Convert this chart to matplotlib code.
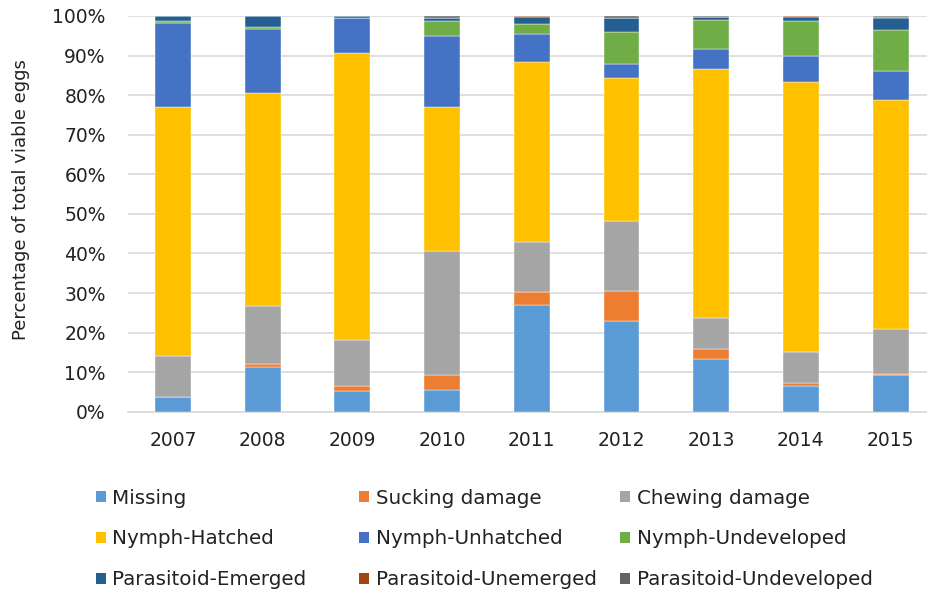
import numpy as np
import matplotlib
matplotlib.use("Agg")
import matplotlib.pyplot as plt
from matplotlib.ticker import PercentFormatter
from matplotlib.patches import Patch

# 数据 (% of total viable eggs)
years = ['2007', '2008', '2009', '2010', '2011', '2012', '2013', '2014', '2015']
missing = [3.8, 11.2, 5.3, 5.6, 27.0, 23.0, 13.3, 6.6, 9.3]
sucking = [0.0, 1.0, 1.3, 3.7, 3.3, 7.5, 2.6, 0.6, 0.3]
chewing = [10.3, 14.6, 11.6, 31.4, 12.7, 17.7, 7.8, 8.0, 11.4]
nymph_hatched = [62.8, 53.7, 72.4, 36.4, 45.3, 36.1, 62.9, 68.0, 57.8]
nymph_unhatched = [21.2, 16.2, 9.0, 17.9, 7.2, 3.6, 5.1, 6.8, 7.4]
nymph_undeveloped = [0.6, 0.4, 0.0, 3.7, 2.5, 8.1, 7.3, 8.7, 10.2]
para_emerged = [1.3, 2.9, 0.4, 0.9, 1.7, 3.6, 0.7, 1.0, 3.0]
para_unemerged = [0.0, 0.0, 0.0, 0.0, 0.3, 0.0, 0.0, 0.3, 0.4]
para_undeveloped = [0.0, 0.0, 0.0, 0.4, 0.0, 0.4, 0.3, 0.0, 0.2]

series = [
    ('Missing', missing, '#5B9BD5'),
    ('Sucking damage', sucking, '#ED7D31'),
    ('Chewing damage', chewing, '#A5A5A5'),
    ('Nymph-Hatched', nymph_hatched, '#FFC000'),
    ('Nymph-Unhatched', nymph_unhatched, '#4472C4'),
    ('Nymph-Undeveloped', nymph_undeveloped, '#70AD47'),
    ('Parasitoid-Emerged', para_emerged, '#255E91'),
    ('Parasitoid-Unemerged', para_unemerged, '#9E480E'),
    ('Parasitoid-Undeveloped', para_undeveloped, '#636363'),
]

fig = plt.figure(figsize=(9.28, 5.90), dpi=100)
ax = fig.add_axes([0.138, 0.302, 0.870, 0.671])

x = np.arange(len(years))
bottom = np.zeros(len(years))
for name, vals, col in series:
    v = np.array(vals) / 100.0
    ax.bar(x, v, width=0.4, bottom=bottom, color=col, label=name,
           edgecolor='white', linewidth=0.3, zorder=3)
    bottom += v

ax.set_xlim(-0.5, 8.5)
ax.set_ylim(0, 1.0)
ax.set_yticks(np.arange(0, 1.01, 0.1))
ax.yaxis.set_major_formatter(PercentFormatter(1.0, decimals=0))
ax.set_xticks(x)
ax.set_xticklabels(years)
ax.tick_params(axis='both', length=0, labelsize=13.5, colors='#222222')
ax.tick_params(axis='x', pad=14)
ax.tick_params(axis='y', pad=16)
ax.grid(axis='y', color='#D9D9D9', linewidth=1.2, zorder=0)
for s in ['top', 'right', 'left']:
    ax.spines[s].set_visible(False)
ax.spines['bottom'].set_color('#D9D9D9')
ax.spines['bottom'].set_linewidth(1.2)
ax.set_ylabel('Percentage of total viable eggs', fontsize=13, color='#222222')
ax.yaxis.set_label_coords(-0.122, 0.535)

# 图例: 三列, 手动放置
handles = [Patch(facecolor=c, edgecolor='none') for _, _, c in series]
labels = [n for n, _, _ in series]
col_x = [0.103, 0.387, 0.668]
for j in range(3):
    idx = [j, j + 3, j + 6]
    leg = fig.legend([handles[i] for i in idx], [labels[i] for i in idx],
                     loc='upper left', bbox_to_anchor=(col_x[j], 0.172),
                     frameon=False, fontsize=14.3, handlelength=0.5,
                     handleheight=0.5, handletextpad=0.35,
                     labelspacing=1.1, borderpad=0, borderaxespad=0)
    for t in leg.get_texts():
        t.set_color('#222222')

plt.savefig('out.png', dpi=100)
